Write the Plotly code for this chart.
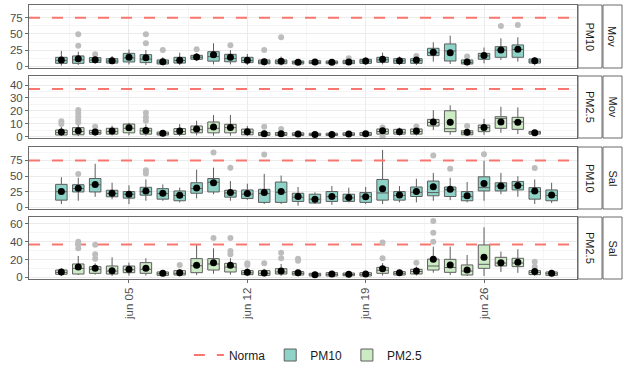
import plotly.graph_objects as go
from plotly.subplots import make_subplots
import pandas as pd

# ---------------- data ----------------
start = pd.Timestamp("2021-06-01")
mov_days = list(range(1, 30))
sal_days = list(range(1, 31))

tick_dates = ["2021-06-05", "2021-06-12", "2021-06-19", "2021-06-26"]
tick_labels = ["jun 05", "jun 12", "jun 19", "jun 26"]

norma_pm10 = 75
norma_pm25 = 37

# Mov PM10
mov_pm10_q1 = [4.6, 4.6, 6, 5, 6.7, 5.7, 3.6, 5, 10.8, 8, 7, 5.7, 4, 4, 3.6, 4.1, 4, 4.1, 4.6, 6.2, 4.6, 4.6, 16.5, 8.2, 3.6, 10.8, 13.9, 13.9, 5]
mov_pm10_med = [9, 10, 9.5, 8, 13, 11, 6.5, 9, 14, 15, 12, 9, 6.5, 7, 6, 6, 6, 6.5, 8, 10, 8.5, 9, 21, 23.7, 6, 16, 25, 26, 8]
mov_pm10_q3 = [13.9, 16, 13.4, 11.8, 20, 18, 9.8, 13.9, 17, 22.6, 18.5, 13.9, 9.8, 9.8, 8.2, 8.7, 8.2, 9.2, 10.8, 13.9, 11.8, 11.8, 27.8, 34.5, 9.8, 20, 30.3, 33, 11.3]
mov_pm10_lo = [1, 2, 4, 3, 3, 2, 1.5, 2, 8, 3, 3, 2, 1.5, 1.5, 2, 2, 2, 2, 2, 3, 2, 2, 7.2, 3.5, 1.5, 4.6, 9.8, 7.2, 1.5]
mov_pm10_hi = [23.7, 22.6, 16, 16, 26, 25, 13.9, 21, 20, 35.5, 25, 19, 12, 15, 11, 11, 10.5, 11, 14, 21, 15, 14, 37, 47.3, 13, 29, 43.2, 44.8, 14]
mov_pm10_mean = [9.8, 11.8, 10.3, 8.7, 13.9, 13.4, 7.2, 9.3, 14.4, 18, 13.9, 9.3, 7.2, 7.7, 6.2, 6.7, 6.2, 6.7, 8.2, 10.8, 8.7, 9.8, 21.6, 21, 6.7, 16.5, 25.2, 26.2, 8.7]
mov_pm10_out = [[], [49.4, 31.9], [18.5], [], [], [49.4, 35.5], [25.2], [], [26.2], [], [32.4], [], [25.2], [44.8], [], [], [], [12.5], [], [], [], [16], [], [], [15], [], [62.2], [63.8], []]

# Mov PM2.5
mov_pm25_q1 = [1.3, 1.5, 2, 2, 3, 2, 1.3, 1.8, 3, 3, 3, 1.5, 1, 1, 0.9, 0.9, 0.9, 1, 1, 2, 2, 2, 8.3, 3.9, 1.5, 3.9, 6.5, 5.7, 2]
mov_pm25_med = [3.2, 4, 3.2, 4, 6.5, 4.5, 2.3, 4, 5.5, 6.5, 7, 3.5, 2, 2, 1.8, 1.6, 1.6, 1.9, 2, 4, 3.5, 4, 11, 6.2, 3, 7, 14.2, 11.5, 3]
mov_pm25_q3 = [5.2, 7, 5, 6.5, 9.8, 6.5, 3.6, 6.3, 8.3, 11.4, 9.6, 5.9, 3.3, 3.3, 3, 2.7, 2.7, 3, 3.3, 6, 5.7, 6, 13.4, 20.1, 4.6, 9, 15.5, 15, 4.1]
mov_pm25_lo = [0.5, 0.5, 0.8, 1, 1, 0.8, 0.5, 0.5, 1, 0.8, 0.8, 0.5, 0.3, 0.3, 0.3, 0.3, 0.3, 0.3, 0.3, 1.5, 1, 1, 5.2, 1.5, 0.5, 1.5, 3, 2, 1]
mov_pm25_hi = [7.7, 10, 6.5, 8.5, 10.8, 9.5, 5, 9.8, 12.4, 16.8, 16.8, 8.3, 5, 4.5, 4, 3.8, 3.8, 4, 4.5, 6, 7, 7, 20.6, 24.3, 6, 13.9, 23.2, 22.7, 5]
mov_pm25_mean = [3.6, 4.6, 3.6, 4.4, 7, 4.9, 2.6, 4.4, 5.9, 7.5, 7.2, 3.9, 2.3, 2.3, 2.1, 1.8, 1.8, 2.1, 2.3, 4.6, 3.9, 4.4, 11.4, 11.1, 3.4, 7.2, 11.4, 11.1, 3.1]
mov_pm25_out = [[11.9, 9.8], [20.6, 18.3, 15.8, 13.2, 11], [7.7], [], [], [18.6, 15, 12.4], [], [], [], [], [], [], [7.7], [5.9], [], [], [], [], [], [7.2, 0.3], [], [8], [], [], [8.3], [], [], [], []]

# Sal PM10
sal_pm10_q1 = [11.5, 24.6, 24.6, 16.8, 14.7, 19.4, 13.1, 10.5, 22.5, 24.6, 16.3, 14.2, 7.9, 7.9, 9.4, 6.8, 9.4, 9.4, 7.9, 11.5, 11.5, 17.3, 18.4, 17.3, 10.5, 26.2, 26.2, 27.8, 13.1, 10.5]
sal_pm10_med = [25, 30, 36, 22, 21, 25, 22, 19, 30, 40, 23, 21, 22, 24, 16, 13, 17, 15, 17, 23, 19, 24, 23.6, 28, 17, 31.5, 34, 35, 25, 19]
sal_pm10_q3 = [36.7, 36.2, 46.1, 27.3, 25.2, 32, 29.9, 26.2, 39.3, 46.1, 27.3, 27.8, 28.8, 40.4, 22.5, 21, 25.2, 21, 23.6, 44.6, 25.2, 32.5, 42, 32.5, 25.2, 48.8, 39.3, 41.4, 31.5, 27.8]
sal_pm10_lo = [5.2, 10.5, 16.8, 13, 5.2, 10.5, 10.5, 7.9, 14.2, 21, 10.5, 12, 5.2, 5.2, 2.6, 5.2, 4, 7.9, 5.2, 5.2, 7.9, 7.9, 10.5, 11.5, 7.9, 10.5, 21, 16.8, 5.2, 6.8]
sal_pm10_hi = [48.2, 47.2, 69.7, 39.3, 35.1, 44.6, 36.7, 31.5, 60.3, 63.5, 42, 37.8, 53.5, 50.9, 32.5, 24, 34, 31.5, 32.5, 91.8, 34, 45.6, 55, 47.2, 40.4, 74.5, 55, 49.8, 44.6, 39.3]
sal_pm10_mean = [25.2, 30.4, 36.7, 22.5, 21, 26.2, 22.5, 19.4, 30.9, 39.3, 23.6, 22, 23.6, 25.2, 17.3, 13.1, 17.3, 15.7, 16.8, 29.9, 19.9, 25.2, 33, 28.8, 18.4, 38.3, 34, 35.1, 26.2, 19.9]
sal_pm10_out = [[], [53.5], [], [], [], [59.3, 54], [], [], [], [87.6], [63.5], [], [84.4], [], [], [], [], [], [], [], [], [], [82.9], [61.9], [], [85], [], [], [62.9], []]

# Sal PM2.5
sal_pm25_q1 = [3.4, 3.7, 4.5, 3.7, 5.2, 4.5, 2.2, 2.6, 5.2, 8.2, 6, 3, 2.2, 3.7, 2.6, 1.5, 1.5, 1.8, 1.5, 4.5, 2.6, 3.7, 8.2, 5.6, 2.6, 10.1, 12.7, 12, 3, 2.2]
sal_pm25_med = [5.5, 10, 9, 7, 8.5, 9, 4, 4.5, 13, 15, 11.5, 5, 4.5, 6, 4.5, 2.8, 3.3, 3.1, 3.3, 8, 4.5, 6.5, 12.7, 11, 7, 14.6, 16, 16, 5.5, 4]
sal_pm25_q3 = [8.2, 15, 12, 12.7, 12.7, 16.5, 6, 7.5, 21, 21, 15.7, 7.5, 7.5, 9.7, 6.4, 4.5, 5.2, 4.8, 5.2, 11.2, 6.4, 9, 20.5, 20.2, 13.9, 36.4, 22.5, 21.4, 7.5, 6]
sal_pm25_lo = [1.5, 2.6, 3, 1.5, 2, 2, 1, 1, 2.5, 4, 3, 1.5, 1, 1.5, 1, 0.5, 0.5, 0.8, 0.5, 2, 1.5, 2, 5.2, 2.5, 1.5, 1.5, 6, 5, 1.5, 1]
sal_pm25_hi = [10, 24, 15.7, 22.5, 16.5, 21.4, 7, 9, 36.4, 32.6, 21.4, 10, 9, 15, 8, 6, 6.5, 6, 6.5, 16, 8, 12, 34.5, 34.5, 25.1, 56.2, 28.9, 31.5, 10, 7]
sal_pm25_mean = [6, 11.6, 10.1, 7.5, 9, 10.1, 4.5, 5.2, 13.5, 16.5, 13.5, 5.6, 4.9, 7.1, 5.2, 3.0, 3.7, 3.4, 3.7, 9.7, 5.2, 7.1, 20.2, 13.9, 8.2, 22.5, 16.5, 16.9, 6.4, 4.5]
sal_pm25_out = [[], [40.1, 37.1, 32.6], [36.5, 26, 21], [], [], [], [], [13.9], [], [44.2], [44.2, 29.5, 26], [15.7, 13.9], [15.7], [27.7, 21.4], [21, 18.7], [], [], [], [], [21.4, 39], [], [16.5], [63.4, 50.2, 40.1], [], [], [], [], [], [17.6, 12], []]

# ---------------- styling ----------------
FILL_PM10 = "#8DD3C7"
FILL_PM25 = "#CCEBC5"
BOX_LINE = "#5E5E5E"
NORMA_COL = "#F8766D"
BORDER = "#6B6B6B"
FONT = "Liberation Sans"

W, H = 623, 366
ML, MR, MT, MB = 29, 46, 5, 87
PW, PH = W - ML - MR, H - MT - MB

panel_px = [(5, 68), (76, 138), (147, 209), (217, 279)]
y_ranges = [[-2.6, 94.6], [-1.0, 47.0], [-2.7, 96.5], [-1.9, 67.8]]
y_ticks = [[0, 25, 50, 75], [0, 10, 20, 30, 40], [0, 25, 50, 75], [0, 20, 40, 60]]

x_range = [start + pd.Timedelta(days=-1.914), start + pd.Timedelta(days=30.5)]


def dates(days):
    return [(start + pd.Timedelta(days=d - 1)).strftime("%Y-%m-%d") for d in days]


panels = [
    ("Mov", "PM10", mov_days, mov_pm10_q1, mov_pm10_med, mov_pm10_q3, mov_pm10_lo, mov_pm10_hi, mov_pm10_mean, mov_pm10_out, FILL_PM10, norma_pm10),
    ("Mov", "PM2.5", mov_days, mov_pm25_q1, mov_pm25_med, mov_pm25_q3, mov_pm25_lo, mov_pm25_hi, mov_pm25_mean, mov_pm25_out, FILL_PM25, norma_pm25),
    ("Sal", "PM10", sal_days, sal_pm10_q1, sal_pm10_med, sal_pm10_q3, sal_pm10_lo, sal_pm10_hi, sal_pm10_mean, sal_pm10_out, FILL_PM10, norma_pm10),
    ("Sal", "PM2.5", sal_days, sal_pm25_q1, sal_pm25_med, sal_pm25_q3, sal_pm25_lo, sal_pm25_hi, sal_pm25_mean, sal_pm25_out, FILL_PM25, norma_pm25),
]

fig = make_subplots(rows=4, cols=1, shared_xaxes=True, vertical_spacing=0.03)

shown = set()
for i, (lug, cont, days, q1, med, q3, lo, hi, mean, outs, fill, norma) in enumerate(panels):
    r = i + 1
    xd = dates(days)
    fig.add_trace(go.Scatter(
        x=[x_range[0], x_range[1]], y=[norma, norma], mode="lines",
        line=dict(color=NORMA_COL, width=2, dash="11px,12px"),
        name="Norma", legendgroup="Norma", showlegend=(i == 0), legendrank=1,
        hoverinfo="skip"), row=r, col=1)
    fig.add_trace(go.Box(
        x=xd, q1=q1, median=med, q3=q3, lowerfence=lo, upperfence=hi,
        fillcolor=fill, line=dict(color=BOX_LINE, width=1), whiskerwidth=0,
        width=0.68 * 86400000, boxpoints=False, name=cont, legendgroup=cont,
        showlegend=(cont not in shown), legendrank=2 if cont == "PM10" else 3),
        row=r, col=1)
    shown.add(cont)
    ox, oy = [], []
    for d, vals in zip(xd, outs):
        for v in vals:
            ox.append(d)
            oy.append(v)
    fig.add_trace(go.Scatter(x=ox, y=oy, mode="markers",
                             marker=dict(color="#BDBDBD", size=6),
                             showlegend=False, hoverinfo="skip"), row=r, col=1)
    fig.add_trace(go.Scatter(x=xd, y=mean, mode="markers",
                             marker=dict(color="black", size=7),
                             showlegend=False, hoverinfo="skip"), row=r, col=1)

layout_upd = {}
shapes = []
annotations = []
for i in range(4):
    top, bot = panel_px[i]
    d0 = (H - MB - bot) / PH
    d1 = (H - MB - top) / PH
    yk = "yaxis" if i == 0 else f"yaxis{i+1}"
    xk = "xaxis" if i == 0 else f"xaxis{i+1}"
    step = y_ticks[i][1] - y_ticks[i][0]
    layout_upd[yk] = dict(
        domain=[d0, d1], range=y_ranges[i], tickmode="array", tickvals=y_ticks[i],
        showgrid=True, gridcolor="#EBEBEB", gridwidth=1,
        minor=dict(showgrid=True, gridcolor="#F5F5F5", gridwidth=0.6, dtick=step / 2, tick0=0),
        showline=True, linecolor=BORDER, linewidth=1, mirror=True,
        ticks="outside", ticklen=3, tickcolor=BORDER, tickwidth=1,
        tickfont=dict(size=11.5, color="#4D4D4D", family=FONT), zeroline=False)
    layout_upd[xk] = dict(
        range=x_range, type="date", tickmode="array", tickvals=tick_dates,
        ticktext=tick_labels, showgrid=True, gridcolor="#EBEBEB", gridwidth=1,
        minor=dict(showgrid=True, gridcolor="#F5F5F5", gridwidth=0.6,
                   dtick=7 * 86400000, tick0="2021-06-01 12:00"),
        showline=True, linecolor=BORDER, linewidth=1, mirror=True,
        ticks="outside" if i == 3 else "", ticklen=3, tickcolor=BORDER,
        showticklabels=(i == 3), tickangle=-90,
        tickfont=dict(size=11.5, color="#4D4D4D", family=FONT), zeroline=False)
    lug, cont = panels[i][0], panels[i][1]
    for (px0, px1, txt) in [(578, 602, cont), (603, 622, lug)]:
        x0 = (px0 - ML) / PW
        x1 = (px1 - ML) / PW
        shapes.append(dict(type="rect", xref="paper", yref="paper", x0=x0, x1=x1,
                           y0=d0, y1=d1, line=dict(color=BORDER, width=1),
                           fillcolor="white", layer="above"))
        annotations.append(dict(xref="paper", yref="paper", x=(x0 + x1) / 2,
                                y=(d0 + d1) / 2, xanchor="center", yanchor="middle",
                                text=txt, textangle=90, showarrow=False,
                                font=dict(size=11, color="#1A1A1A", family=FONT)))

fig.update_layout(**layout_upd)
fig.update_layout(
    width=W, height=H,
    margin=dict(l=ML, r=MR, t=MT, b=MB, pad=0),
    plot_bgcolor="white", paper_bgcolor="white",
    shapes=shapes, annotations=annotations,
    boxmode="overlay",
    showlegend=True,
    legend=dict(orientation="h", xref="container", yref="container",
                x=0.495, xanchor="center", y=0.03, yanchor="middle",
                font=dict(size=12, color="#1A1A1A", family=FONT),
                itemwidth=30, tracegroupgap=0, bgcolor="rgba(0,0,0,0)"),
    font=dict(family=FONT),
)

fig.write_html("out.html")
